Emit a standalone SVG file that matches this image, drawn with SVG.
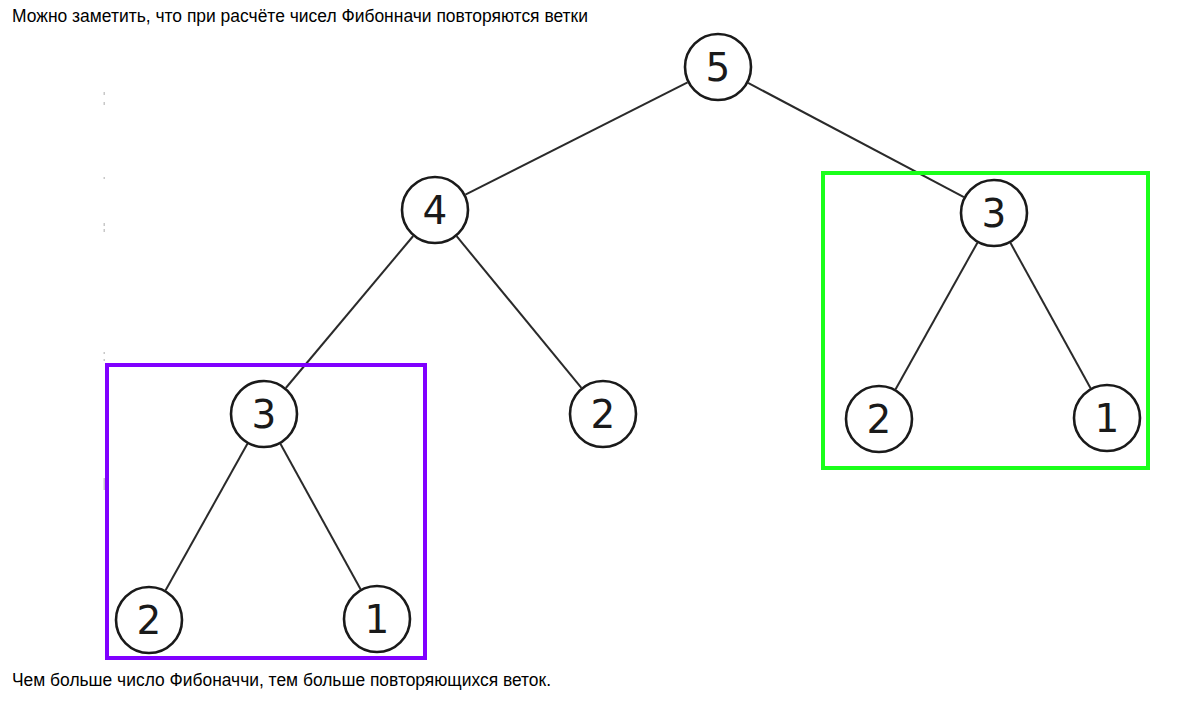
<svg xmlns="http://www.w3.org/2000/svg" width="1190" height="704" viewBox="0 0 1190 704">
<style>
.cap{font-family:Arial,"Liberation Sans",sans-serif;font-size:17.5px;fill:#000}
.node circle{fill:#fff;stroke:#1a1a1a;stroke-width:2.6}
.node text{font-family:"DejaVu Sans",sans-serif;font-size:39px;fill:#1a1a1a;text-anchor:middle}
.edge{stroke:#2a2a2a;stroke-width:2;fill:none}
.mark{fill:#c8c8c8}
</style>
<rect width="1190" height="704" fill="#fff"/>
<text class="cap" x="12" y="22" textLength="576" lengthAdjust="spacingAndGlyphs">Можно заметить, что при расчёте чисел Фибонначи повторяются ветки</text>
<text class="cap" x="12" y="686" textLength="539" lengthAdjust="spacingAndGlyphs">Чем больше число Фибоначчи, тем больше повторяющихся веток.</text>
<g id="marks">
<rect class="mark" x="103.5" y="92" width="1.5" height="3"/>
<rect class="mark" x="103.5" y="102" width="1.5" height="3"/>
<rect class="mark" x="103.5" y="177" width="1.5" height="2"/>
<rect class="mark" x="103.5" y="223" width="1.5" height="3"/>
<rect class="mark" x="103.5" y="229" width="1.5" height="3"/>
<rect class="mark" x="103.5" y="352" width="1.5" height="2"/>
<rect class="mark" x="103.5" y="359" width="1.5" height="2"/>
<rect class="mark" x="103.5" y="478" width="1.5" height="12"/>
</g>
<g id="connectors">
<line class="edge" x1="687.6" y1="82.3" x2="465.4" y2="194.7"/>
<line class="edge" x1="748.1" y1="82.9" x2="963.9" y2="197.1"/>
<line class="edge" x1="413.2" y1="236.0" x2="285.8" y2="388.0"/>
<line class="edge" x1="456.6" y1="236.2" x2="581.4" y2="387.8"/>
<line class="edge" x1="247.4" y1="443.7" x2="165.6" y2="590.3"/>
<line class="edge" x1="280.4" y1="443.8" x2="360.6" y2="589.2"/>
<line class="edge" x1="977.4" y1="242.7" x2="895.6" y2="389.3"/>
<line class="edge" x1="1010.4" y1="242.8" x2="1090.6" y2="388.2"/>
</g>
<g id="box-purple"><rect x="107" y="365" width="318" height="293" fill="none" stroke="#8000ff" stroke-width="4"/></g>
<g id="box-green"><rect x="823" y="173" width="325" height="295" fill="none" stroke="#1aff1a" stroke-width="4"/></g>
<g id="n5" class="node"><circle cx="718" cy="67" r="33"/><text x="718" y="81">5</text></g>
<g id="n4" class="node"><circle cx="435" cy="210" r="33"/><text x="435" y="224">4</text></g>
<g id="n3r" class="node"><circle cx="994" cy="213" r="33"/><text x="994" y="227">3</text></g>
<g id="n3l" class="node"><circle cx="264" cy="414" r="33"/><text x="264" y="428">3</text></g>
<g id="n2m" class="node"><circle cx="603" cy="414" r="33"/><text x="603" y="428">2</text></g>
<g id="n2r" class="node"><circle cx="879" cy="419" r="33"/><text x="879" y="433">2</text></g>
<g id="n1r" class="node"><circle cx="1107" cy="418" r="33"/><text x="1107" y="432">1</text></g>
<g id="n2l" class="node"><circle cx="149" cy="620" r="33"/><text x="149" y="634">2</text></g>
<g id="n1l" class="node"><circle cx="377" cy="619" r="33"/><text x="377" y="633">1</text></g>
</svg>
